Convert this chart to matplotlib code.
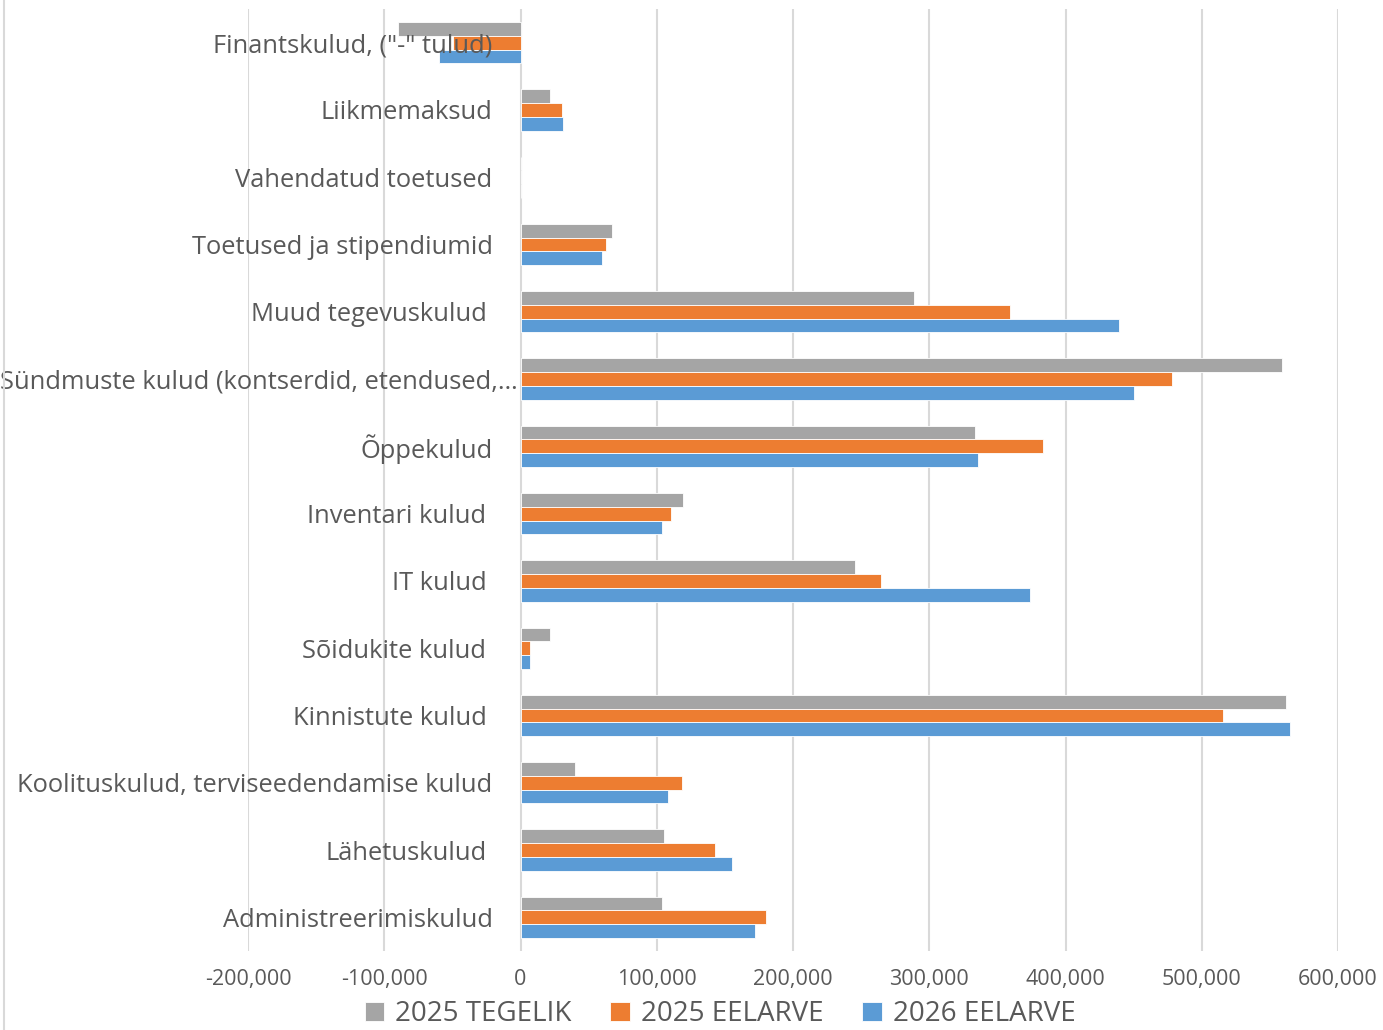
import matplotlib.pyplot as plt
import numpy as np
from matplotlib.lines import Line2D

categories = ['Finantskulud, ("-" tulud)', 'Liikmemaksud', 'Vahendatud toetused',
              'Toetused ja stipendiumid', 'Muud tegevuskulud ',
              'Sündmuste kulud (kontserdid, etendused,…', 'Õppekulud', 'Inventari kulud ',
              'IT kulud ', 'Sõidukite kulud ', 'Kinnistute kulud ',
              'Koolituskulud, terviseedendamise kulud', 'Lähetuskulud ', 'Administreerimiskulud']

tegelik_2025 = [-90000, 22000, 0, 67300, 288500, 559200, 333300, 119100, 245700, 22000, 562100, 40000, 105500, 104000]
eelarve_2025 = [-49800, 30800, 0, 63100, 359400, 478300, 383400, 110300, 264300, 7000, 515900, 118500, 143000, 180400]
eelarve_2026 = [-59500, 31500, 0, 59700, 439200, 450600, 336000, 104200, 374300, 7000, 564800, 108000, 155000, 172000]

series = [('2025 TEGELIK', tegelik_2025, '#A5A5A5'),
          ('2025 EELARVE', eelarve_2025, '#ED7D31'),
          ('2026 EELARVE', eelarve_2026, '#5B9BD5')]

txt = '#595959'
plt.rcParams['font.family'] = ['Open Sans', 'DejaVu Sans']

fig = plt.figure(figsize=(13.83, 10.30), dpi=100)
ax = fig.add_axes([248 / 1383, 1 - 951 / 1030, 1090 / 1383, 942 / 1030])

y = np.arange(len(categories))
h = 0.205
for i, (name, vals, col) in enumerate(series):
    ax.barh(y + (i - 1) * h, vals, height=h, color=col, label=name,
            edgecolor='white', linewidth=0.6, zorder=3)

ax.set_xlim(-200000, 600000)
ax.set_ylim(len(categories) - 0.5, -0.5)
ax.set_xticks(np.arange(-200000, 600001, 100000))
ax.set_xticklabels([f'{v:,}' for v in range(-200000, 600001, 100000)])
ax.tick_params(axis='x', length=0, pad=13, labelsize=15.5, labelcolor=txt)
ax.set_yticks([])
ax.grid(axis='x', color='#D9D9D9', linewidth=1.5, zorder=0)
for s in ax.spines.values():
    s.set_visible(False)

for yi, lab in zip(y, categories):
    if lab.startswith('Sündmuste'):
        xx = -2000
    elif lab.endswith(' '):
        xx = -25000
    else:
        xx = -20500
    ax.text(xx, yi, lab.rstrip(), ha='right', va='center_baseline', fontsize=18.4,
            color=txt, zorder=5)

fig.add_artist(Line2D([4 / 1383, 4 / 1383], [0, 1], color='#D9D9D9', linewidth=1.5))

leg = fig.legend(loc='center', bbox_to_anchor=(720 / 1383, 1 - 1014 / 1030), ncol=3,
                 frameon=False, fontsize=20, handlelength=0.7, handleheight=0.7,
                 handletextpad=0.4, columnspacing=1.4)
for t in leg.get_texts():
    t.set_color(txt)

fig.savefig('out.png', dpi=100)
